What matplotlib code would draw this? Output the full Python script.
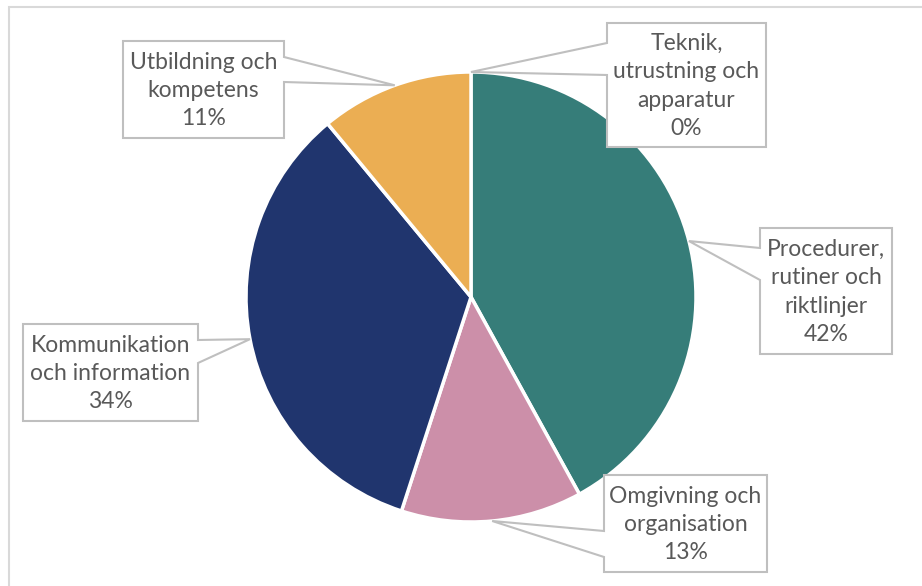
import numpy as np
import matplotlib
matplotlib.use('Agg')
import matplotlib.pyplot as plt
from matplotlib.patches import Polygon, Rectangle

plt.rcParams['font.family'] = ['Lato', 'DejaVu Sans']

categories = ['Teknik,\nutrustning och\napparatur',
              'Procedurer,\nrutiner och\nriktlinjer',
              'Omgivning och\norganisation',
              'Kommunikation\noch information',
              'Utbildning och\nkompetens']
shares = [0, 42, 13, 34, 11]
colors = ['#7F7F7F', '#367D79', '#CC8FA9', '#20356E', '#EBAE53']

W, H = 922, 586
TEXT = '#595959'
EDGE = '#BFBFBF'

# callout boxes in pixel coords: left, top, right, bottom, side of pointer, pointer base y0, y1
boxes = [
    (607, 23, 766, 147, 'left', 43, 75),
    (760, 228, 892, 354, 'left', 248, 280),
    (604, 475, 767, 572, 'left', 531, 557),
    (23, 324, 198, 421, 'right', 340, 363),
    (123, 41, 284, 138, 'right', 57, 82),
]


def px(x, y):
    return x, H - y


fig = plt.figure(figsize=(W / 100, H / 100), dpi=100)
ax = fig.add_axes([0, 0, 1, 1])

# chart area border (only top and left are within the frame)
ax.add_patch(Rectangle(px(9, 600), 1000, 593, fill=False, ec='#D9D9D9', lw=1.5))

cx, cy = px(471, 297)
r = 225
wedges, _ = ax.pie(shares, colors=colors, startangle=90, counterclock=False,
                   center=(cx, cy), radius=r, frame=True,
                   wedgeprops=dict(edgecolor='white', linewidth=2.5))
ax.set_xlim(0, W)
ax.set_ylim(0, H)
ax.set_aspect('equal')
ax.axis('off')

total = sum(shares)
for w, label, val, box in zip(wedges, categories, shares, boxes):
    mid = np.deg2rad((w.theta1 + w.theta2) / 2)
    tip = (cx + r * np.cos(mid), cy + r * np.sin(mid))
    l, t, rr, b, side, y0, y1 = box
    if side == 'left':
        verts = [px(l, t), px(rr, t), px(rr, b), px(l, b), px(l, y1), tip, px(l, y0)]
    else:
        verts = [px(l, t), px(rr, t), px(rr, y0), tip, px(rr, y1), px(rr, b), px(l, b)]
    ax.add_patch(Polygon(verts, closed=True, fc='white', ec=EDGE, lw=1.5, zorder=3))
    pct = f'{round(100 * val / total)}%'
    ax.text(*px((l + rr) / 2, (t + b) / 2 + 1), f'{label}\n{pct}', ha='center', va='center',
            color=TEXT, fontsize=16.5, linespacing=1.42, zorder=4)

fig.savefig('out.png', dpi=100)
